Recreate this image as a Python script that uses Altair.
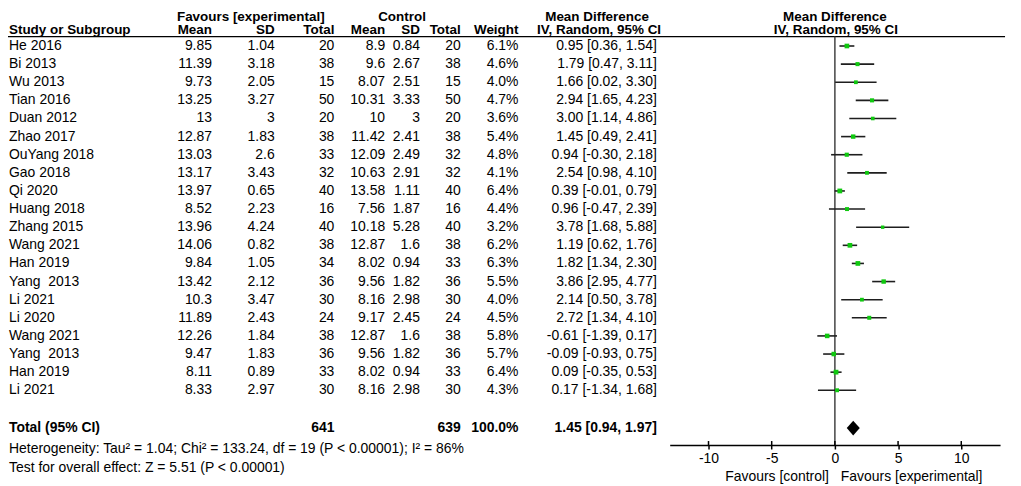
import altair as alt
import pandas as pd

# ---------------- data ----------------
studies = ["He 2016", "Bi 2013", "Wu 2013", "Tian 2016", "Duan 2012", "Zhao 2017",
           "OuYang 2018", "Gao 2018", "Qi 2020", "Huang 2018", "Zhang 2015", "Wang 2021",
           "Han 2019", "Yang  2013", "Li 2021", "Li 2020", "Wang 2021", "Yang  2013",
           "Han 2019", "Li 2021"]
exp_mean = [9.85, 11.39, 9.73, 13.25, 13, 12.87, 13.03, 13.17, 13.97, 8.52, 13.96, 14.06,
            9.84, 13.42, 10.3, 11.89, 12.26, 9.47, 8.11, 8.33]
exp_sd = [1.04, 3.18, 2.05, 3.27, 3, 1.83, 2.6, 3.43, 0.65, 2.23, 4.24, 0.82,
          1.05, 2.12, 3.47, 2.43, 1.84, 1.83, 0.89, 2.97]
exp_n = [20, 38, 15, 50, 20, 38, 33, 32, 40, 16, 40, 38, 34, 36, 30, 24, 38, 36, 33, 30]
ctl_mean = [8.9, 9.6, 8.07, 10.31, 10, 11.42, 12.09, 10.63, 13.58, 7.56, 10.18, 12.87,
            8.02, 9.56, 8.16, 9.17, 12.87, 9.56, 8.02, 8.16]
ctl_sd = [0.84, 2.67, 2.51, 3.33, 3, 2.41, 2.49, 2.91, 1.11, 1.87, 5.28, 1.6,
          0.94, 1.82, 2.98, 2.45, 1.6, 1.82, 0.94, 2.98]
ctl_n = [20, 38, 15, 50, 20, 38, 32, 32, 40, 16, 40, 38, 33, 36, 30, 24, 38, 36, 33, 30]
weight = [6.1, 4.6, 4.0, 4.7, 3.6, 5.4, 4.8, 4.1, 6.4, 4.4, 3.2, 6.2,
          6.3, 5.5, 4.0, 4.5, 5.8, 5.7, 6.4, 4.3]
md = [0.95, 1.79, 1.66, 2.94, 3.00, 1.45, 0.94, 2.54, 0.39, 0.96, 3.78, 1.19,
      1.82, 3.86, 2.14, 2.72, -0.61, -0.09, 0.09, 0.17]
ci_lo = [0.36, 0.47, 0.02, 1.65, 1.14, 0.49, -0.30, 0.98, -0.01, -0.47, 1.68, 0.62,
         1.34, 2.95, 0.50, 1.34, -1.39, -0.93, -0.35, -1.34]
ci_hi = [1.54, 3.11, 3.30, 4.23, 4.86, 2.41, 2.18, 4.10, 0.79, 2.39, 5.88, 1.76,
         2.30, 4.77, 3.78, 4.10, 0.17, 0.75, 0.53, 1.68]

total_exp_n = 641
total_ctl_n = 639
total_weight = 100.0
total_md, total_lo, total_hi = 1.45, 0.94, 1.97
heterogeneity = "Heterogeneity: Tau² = 1.04; Chi² = 133.24, df = 19 (P < 0.00001); I² = 86%"
overall = "Test for overall effect: Z = 5.51 (P < 0.00001)"
tick_values = [-10, -5, 0, 5, 10]
x_label_left = "Favours [control]"
x_label_right = "Favours [experimental]"

# ---------------- layout ----------------
FONT = "Liberation Sans"
FS = 14          # body text
FS_HEAD = 13.5   # column headers
PAD_L, PAD_T, PAD_B = 2, 0, 40
OX, OY = 8 + PAD_L, 8 + PAD_T
W, H = 1008, 438
ROW0, STEP = 45.0, 18.21


def px(p):
    return p - OX


def row_at(page_y):
    return (page_y - ROW0) / STEP


R_TOP = row_at(OY)
R_BOT = row_at(OY + H)
R_HEAD1 = row_at(16)
R_HEAD2 = row_at(29)
R_LINE = row_at(35.5)
R_TOTAL = row_at(429)
R_HET = row_at(450)
R_TEST = row_at(469)
R_FAV = row_at(478)

YS = alt.Scale(domain=[R_TOP, R_BOT], reverse=True, nice=False, zero=False)
XS = alt.Scale(domain=[-13.07, 13.07], range=[px(673), px(1005)], nice=False, zero=False)
XAX = alt.Axis(values=tick_values, labelExpr="'' + datum.value", title=None, grid=False,
               labelFont=FONT, labelFontSize=FS, labelColor="black",
               tickSize=4, tickWidth=1.5, tickColor="black",
               domainColor="black", domainWidth=1.5, labelPadding=3)


def Y(field="r"):
    return alt.Y(f"{field}:Q", scale=YS, axis=None)


def X(field):
    return alt.X(f"{field}:Q", scale=XS, axis=XAX)


n = len(studies)
rows = list(range(n))
df = pd.DataFrame({
    "r": rows, "study": [s.replace("  ", " \u00a0") for s in studies],
    "md": md, "lo": ci_lo, "hi": ci_hi, "w": weight,
    "em": [f"{v:g}" for v in exp_mean], "esd": [f"{v:g}" for v in exp_sd],
    "en": [str(v) for v in exp_n], "cm": [f"{v:g}" for v in ctl_mean],
    "csd": [f"{v:g}" for v in ctl_sd], "cn": [str(v) for v in ctl_n],
    "wt": [f"{v:.1f}%" for v in weight],
    "ci": [f"{m:.2f} [{l:.2f}, {h:.2f}]" for m, l, h in zip(md, ci_lo, ci_hi)],
})

layers = []

# header underline
layers.append(alt.Chart(pd.DataFrame({"r": [R_LINE]})).mark_rule(
    color="black", strokeWidth=1.2).encode(
    x=alt.value(px(5)), x2=alt.value(px(1010)), y=Y()))

# null line
layers.append(alt.Chart(pd.DataFrame({"x": [0], "r": [R_LINE], "r2": [R_BOT]})).mark_rule(
    color="#444444", strokeWidth=1.5).encode(
    x=X("x"), y=Y(), y2="r2:Q"))

# tick upper halves
layers.append(alt.Chart(pd.DataFrame({"x": tick_values, "r": [R_BOT] * len(tick_values),
                                      "r2": [R_BOT - 4 / STEP] * len(tick_values)})).mark_rule(
    color="black", strokeWidth=1.5).encode(x=X("x"), y=Y(), y2="r2:Q"))

# CI lines
layers.append(alt.Chart(df).mark_rule(color="#1e1e1e", strokeWidth=1.6).encode(
    x=X("lo"), x2="hi:Q", y=Y()))

# squares
layers.append(alt.Chart(df).mark_square(color="#10C810", opacity=1).encode(
    x=X("md"), y=Y(),
    size=alt.Size("w:Q", scale=alt.Scale(domain=[0, 10], range=[0, 36]), legend=None)))

# diamond
HD = 7.5 / STEP
dia = pd.DataFrame({"x": [total_lo, total_md, total_hi],
                    "r": [R_TOTAL, R_TOTAL - HD, R_TOTAL],
                    "r2": [R_TOTAL, R_TOTAL + HD, R_TOTAL]})
layers.append(alt.Chart(dia).mark_area(color="black", opacity=1).encode(
    x=X("x"), y=Y(), y2="r2:Q"))


def text_layer(data, field, x_page, align, bold=False, size=FS, dx=0):
    return alt.Chart(data).mark_text(
        align=align, baseline="middle", font=FONT, fontSize=size, color="black",
        fontWeight="bold" if bold else "normal", dx=dx).encode(
        x=alt.value(px(x_page)), y=Y(), text=f"{field}:N")


# study table columns
cols = [("study", 9, "left"), ("em", 213, "right"), ("esd", 276, "right"),
        ("en", 336, "right"), ("cm", 387, "right"), ("csd", 422, "right"),
        ("cn", 463, "right"), ("wt", 521, "right"), ("ci", 660, "right")]
for f, xp, al in cols:
    layers.append(text_layer(df, f, xp, al))

# headers
head1 = [("Favours [experimental]", 252, "center"), ("Control", 404, "center"),
         ("Mean Difference", 600, "center"), ("Mean Difference", 839, "center")]
head2 = [("Study or Subgroup", 9, "left"), ("Mean", 213, "right"), ("SD", 276, "right"),
         ("Total", 336, "right"), ("Mean", 387, "right"), ("SD", 422, "right"),
         ("Total", 463, "right"), ("Weight", 521, "right"),
         ("IV, Random, 95% CI", 602, "center"), ("IV, Random, 95% CI", 840, "center")]
for t, xp, al in head1:
    layers.append(text_layer(pd.DataFrame({"r": [R_HEAD1], "t": [t]}), "t", xp, al,
                             bold=True, size=FS_HEAD))
for t, xp, al in head2:
    layers.append(text_layer(pd.DataFrame({"r": [R_HEAD2], "t": [t]}), "t", xp, al,
                             bold=True, size=FS_HEAD))

# total row
tot = [("Total (95% CI)", 9, "left"), (str(total_exp_n), 336, "right"),
       (str(total_ctl_n), 463, "right"), (f"{total_weight:.1f}%", 521, "right"),
       (f"{total_md:.2f} [{total_lo:.2f}, {total_hi:.2f}]", 660, "right")]
for t, xp, al in tot:
    layers.append(text_layer(pd.DataFrame({"r": [R_TOTAL], "t": [t]}), "t", xp, al, bold=True))

# footers
layers.append(text_layer(pd.DataFrame({"r": [R_HET], "t": [heterogeneity]}), "t", 9, "left"))
layers.append(text_layer(pd.DataFrame({"r": [R_TEST], "t": [overall]}), "t", 9, "left"))

# favours labels at null line
fav = pd.DataFrame({"x": [0, 0], "r": [R_FAV, R_FAV], "t": [x_label_left, x_label_right]})
layers.append(alt.Chart(fav.iloc[[0]]).mark_text(
    align="right", baseline="middle", font=FONT, fontSize=FS, color="black", dx=-6).encode(
    x=X("x"), y=Y(), text="t:N"))
layers.append(alt.Chart(fav.iloc[[1]]).mark_text(
    align="left", baseline="middle", font=FONT, fontSize=FS, color="black", dx=6).encode(
    x=X("x"), y=Y(), text="t:N"))

chart = alt.layer(*layers).properties(
    width=W, height=H,
    padding={"left": PAD_L, "top": PAD_T, "right": 0, "bottom": PAD_B},
    autosize=alt.AutoSizeParams(type="none"),
    background="white",
).configure_view(stroke=None)

chart.save("out.html", embed_options={"renderer": "svg", "actions": False})
